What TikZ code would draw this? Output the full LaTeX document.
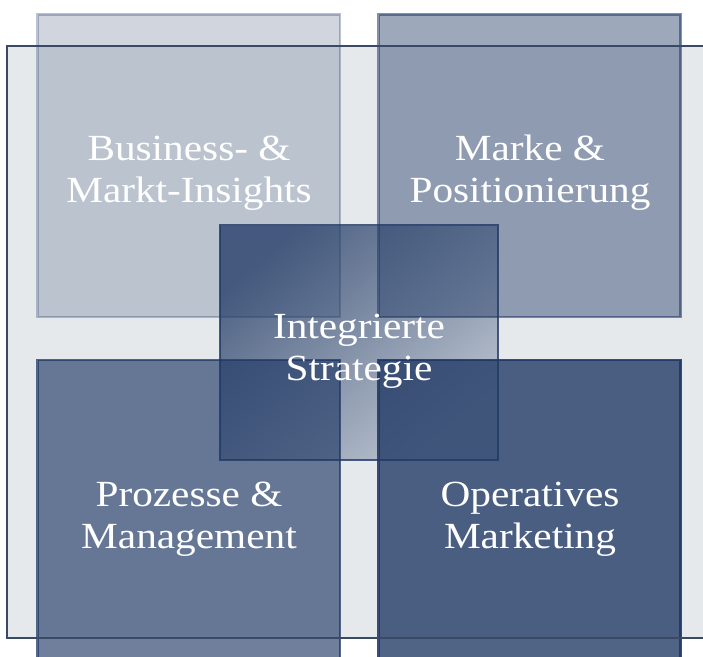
\documentclass[tikz,border=0pt]{standalone}
\usepackage{fontspec}
\setmainfont{Liberation Serif}[FakeStretch=1.12]
\usetikzlibrary{fadings}
\definecolor{navy}{RGB}{31,56,100}
\definecolor{panel}{RGB}{230,233,236}
\definecolor{frame}{RGB}{58,73,100}
\tikzfading[name=centerfade, top color=transparent!24, bottom color=transparent!78]
\begin{document}
\begin{tikzpicture}[x=1bp, y=-1bp,
  tile/.style={fill=navy, draw=navy, line width=2.5bp},
  label/.style={text=white, align=center, font=\fontsize{37}{42.5}\selectfont, inner sep=0pt}]
\useasboundingbox (0,0) rectangle (703,657);
% backdrop panel
\fill[panel] (7,46) rectangle (730,638);
% four outer tiles
\path[tile, fill opacity=0.21, draw opacity=0.30] (37.5,14.5) rectangle (340,317);
\path[tile, fill opacity=0.44, draw opacity=0.55] (378.5,14.5) rectangle (680.5,317);
\path[tile, fill opacity=0.64, draw opacity=0.75] (37.5,360) rectangle (340,665);
\path[tile, fill opacity=0.78, draw opacity=0.88] (378.5,360) rectangle (680.5,665);
% frame line of the backdrop
\draw[frame, line width=2.8bp] (730,46) -- (7,46) -- (7,638) -- (730,638);
% centre tile with diagonal fade
\fill[navy, path fading=centerfade, fading angle=45] (220,225) rectangle (498,460);
\draw[navy, draw opacity=0.8, line width=2.5bp] (220,225) rectangle (498,460);
% labels
\node[label] (ins) at (189,173) {Business- \&\\Markt-Insights};
\node[label] (pos) at (530,173) {Marke \&\\Positionierung};
\node[label] (pro) at (189,519) {Prozesse \&\\Management};
\node[label] (mkt) at (530,519) {Operatives\\Marketing};
\node[label] (str) at (359,351) {Integrierte\\Strategie};
\end{tikzpicture}
\end{document}
